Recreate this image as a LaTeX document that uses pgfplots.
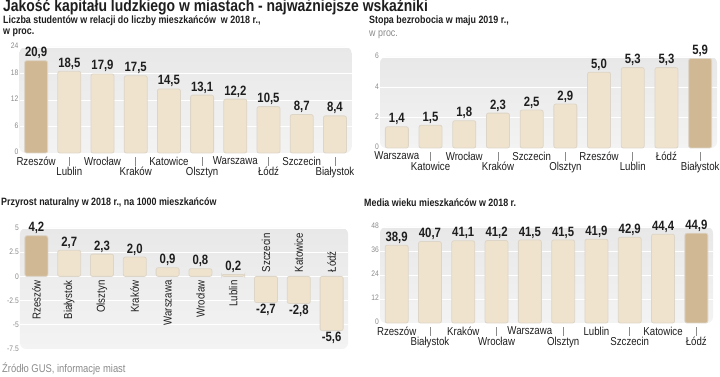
\documentclass[border=0pt]{standalone}
\usepackage{pgfplots}
\pgfplotsset{compat=1.18}
\usepackage{fontspec}
\setmainfont{Liberation Sans}[FakeStretch=0.84]
\definecolor{barc}{HTML}{EFE3CD}
\definecolor{hic}{HTML}{D0B894}
\definecolor{bdc}{HTML}{DDD5C8}
\definecolor{bgtop}{HTML}{E8E8E8}
\definecolor{bgbot}{HTML}{F3F3F3}
\definecolor{txt}{HTML}{1E1E1E}
\definecolor{tlab}{HTML}{8A8A8A}
\newcommand{\tk}[1]{\textcolor{tlab}{\rule[-1pt]{0.7pt}{9pt}}\\#1}
\pgfplotsset{
 base/.style={scale only axis, anchor=south west, xmin=-0.5, xmax=9.5,
  axis line style={draw=none}, clip=false,
  axis background/.style={top color=bgtop, bottom color=bgbot, draw=none, rounded corners=6pt},
  ymajorgrids, major grid style={white, line width=0.9pt},
  major tick length=0pt, xtick pos=bottom, ytick pos=left,
  ytick style={draw=none}, xtick style={draw=none},
  yticklabel style={font=\fontsize{8}{8}\selectfont, text=tlab, inner sep=1pt, yshift=1pt},
  xticklabel style={font=\fontsize{11.5}{11}\selectfont, text=txt, inner sep=1pt, yshift=-2.5pt, align=center},
  /pgf/number format/assume math mode=true,
 },
 bar/.style={ybar, bar width=23pt, bar shift=0pt, fill=barc, draw=bdc, line width=0.8pt, rounded corners=2pt,
  nodes near coords={\pgfmathprintnumber[fixed, fixed zerofill, precision=1, use comma, assume math mode=true]{\pgfplotspointmeta}},
  nodes near coords align=vertical,
  every node near coord/.append style={font=\bfseries\fontsize{13.5}{13}\selectfont, text=txt, inner sep=1.5pt}},
 barhi/.style={bar, fill=hic},
 catlab/.style={draw=none, mark=none, nodes near coords, point meta=explicit symbolic,
  every node near coord/.append style={rotate=90, font=\fontsize{11.5}{11}\selectfont, text=txt, inner sep=4pt, #1}},
}
\begin{document}
\begin{tikzpicture}
\path[use as bounding box] (0pt,0pt) rectangle (720pt,377pt);
% titles
\node[anchor=base west, inner sep=0, text=txt, font=\bfseries\fontsize{16.6}{16}\selectfont] at (3pt,365pt) {Jakość kapitału ludzkiego w miastach - najważniejsze wskaźniki};
\node[anchor=base west, inner sep=0, text=txt, font=\bfseries\fontsize{10.6}{11}\selectfont] at (3pt,353pt) {Liczba studentów w relacji do liczby mieszkańców\ \ w 2018 r.,};
\node[anchor=base west, inner sep=0, text=txt, font=\bfseries\fontsize{10.6}{11}\selectfont] at (3pt,342pt) {w proc.};
\node[anchor=base west, inner sep=0, text=txt, font=\bfseries\fontsize{10.6}{11}\selectfont] at (369pt,353pt) {Stopa bezrobocia w maju 2019 r.,};
\node[anchor=base west, inner sep=0, text=tlab, font=\fontsize{10.6}{11}\selectfont] at (369pt,340pt) {w proc.};
\node[anchor=base west, inner sep=0, text=txt, font=\bfseries\fontsize{10.6}{11}\selectfont] at (1pt,171pt) {Przyrost naturalny w 2018 r., na 1000 mieszkańców};
\node[anchor=base west, inner sep=0, text=txt, font=\bfseries\fontsize{10.6}{11}\selectfont] at (364pt,170pt) {Media wieku mieszkańców w 2018 r.};
\node[anchor=base west, inner sep=0, text=tlab, font=\fontsize{11.2}{11}\selectfont] at (2pt,4pt) {Źródło GUS, informacje miast};

% Panel 1
\begin{axis}[base, at={(19.5pt,224pt)}, width=332pt, height=106pt, ymin=0, ymax=24, ytick={0,6,12,18,24},
 xtick={0,...,9}, xticklabels={Rzeszów,\tk{Lublin},Wrocław,\tk{Kraków},Katowice,\tk{Olsztyn},Warszawa,\tk{Łódź},Szczecin,\tk{Białystok}}]
\addplot[bar] coordinates {(1,18.5) (2,17.9) (3,17.5) (4,14.5) (5,13.1) (6,12.2) (7,10.5) (8,8.7) (9,8.4)};
\addplot[barhi] coordinates {(0,20.9)};
\end{axis}

% Panel 2
\begin{axis}[base, at={(380pt,229pt)}, width=337pt, height=91pt, ymin=0, ymax=6, ytick={0,2,4,6},
 xtick={0,...,9}, xticklabels={Warszawa,\tk{Katowice},Wrocław,\tk{Kraków},Szczecin,\tk{Olsztyn},Rzeszów,\tk{Lublin},Łódź,\tk{Białystok}}]
\addplot[bar] coordinates {(0,1.4) (1,1.5) (2,1.8) (3,2.3) (4,2.5) (5,2.9) (6,5.0) (7,5.3) (8,5.3)};
\addplot[barhi] coordinates {(9,5.9)};
\end{axis}

% Panel 3
\begin{axis}[base, at={(20pt,28pt)}, width=328pt, height=121pt, ymin=-7.5, ymax=5, ytick={-7.5,-5,-2.5,0,2.5,5},
 xtick=\empty, yticklabel style={yshift=-1pt}]
\addplot[bar] coordinates {(1,2.7) (2,2.3) (3,2.0) (4,0.9) (5,0.8) (6,0.2) (7,-2.7) (8,-2.8) (9,-5.6)};
\addplot[barhi] coordinates {(0,4.2)};
\addplot[catlab={anchor=east}] coordinates {(0,0)[Rzeszów] (1,0)[Białystok] (2,0)[Olsztyn] (3,0)[Kraków] (4,0)[Warszawa] (5,0)[Wrocław] (6,0)[Lublin]};
\addplot[catlab={anchor=west}] coordinates {(7,0)[Szczecin] (8,0)[Katowice] (9,0)[Łódź]};
\end{axis}

% Panel 4
\begin{axis}[base, at={(380pt,54pt)}, width=333pt, height=96pt, ymin=0, ymax=48, ytick={0,12,24,36,48},
 xtick={0,...,9}, xticklabels={Rzeszów,\tk{Białystok},Kraków,\tk{Wrocław},Warszawa,\tk{Olsztyn},Lublin,\tk{Szczecin},Katowice,\tk{Łódź}}]
\addplot[bar] coordinates {(0,38.9) (1,40.7) (2,41.1) (3,41.2) (4,41.5) (5,41.5) (6,41.9) (7,42.9) (8,44.4)};
\addplot[barhi] coordinates {(9,44.9)};
\end{axis}
\end{tikzpicture}
\end{document}
